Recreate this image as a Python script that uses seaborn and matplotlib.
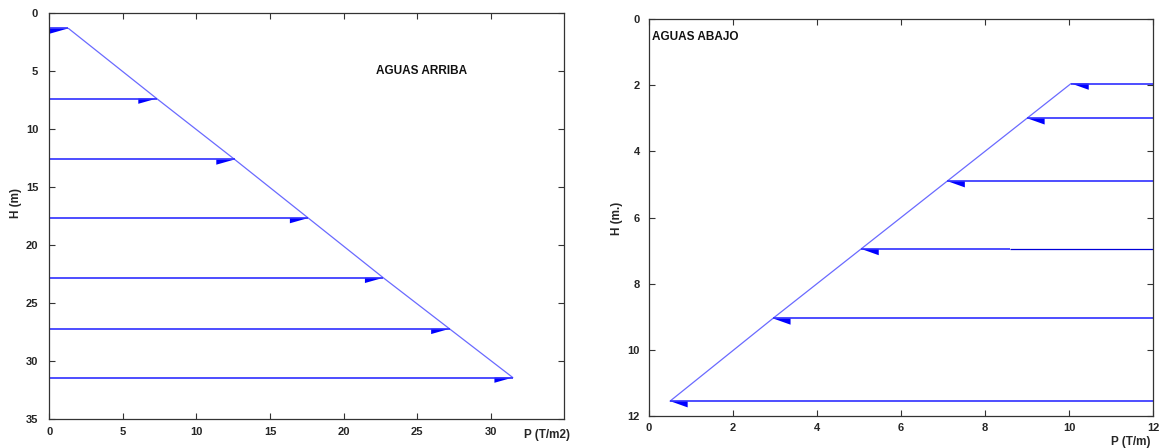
import matplotlib
matplotlib.use("Agg")
import matplotlib.pyplot as plt
import seaborn as sns
import pandas as pd

# Upstream face: water pressure P (T/m2) against depth H (m)
up_H = [1.3, 7.35, 12.6, 17.65, 22.8, 27.2, 31.4]
up_P = [1.3, 7.3, 12.6, 17.6, 22.7, 27.2, 31.5]

# Downstream face: load P (T/m) against depth H (m.)
down_H = [1.95, 3.0, 4.9, 6.95, 9.05, 11.55]
down_P = [10.05, 9.0, 7.1, 5.05, 2.95, 0.5]
down_P_edge = 12.0          # loads are drawn from the right edge
down_split_P = 8.6          # darker stretch of the 4th load line
down_split_row = 3

up_xticks = [0, 5, 10, 15, 20, 25, 30]
up_yticks = [0, 5, 10, 15, 20, 25, 30, 35]
down_xticks = [0, 2, 4, 6, 8, 10, 12]
down_yticks = [0, 2, 4, 6, 8, 10, 12]

sns.set_theme(style="ticks")
plt.rcParams["font.family"] = ["Liberation Sans", "DejaVu Sans"]

LINE = "#2f2fff"
SLOPE = "#6a6aff"
HEAD = "#0000ff"

fig = plt.figure(figsize=(11.65, 4.48), dpi=100)
ax1 = fig.add_axes([0.0423, 0.064, 0.4421, 0.9063])
ax2 = fig.add_axes([0.5571, 0.0714, 0.4326, 0.8862])

# ---- upstream panel ----
up = pd.DataFrame({"P": up_P, "H": up_H})
sns.lineplot(data=up, x="P", y="H", ax=ax1, color=SLOPE, lw=0.9, sort=False)
ax1.hlines(up["H"], 0, up["P"], color=LINE, lw=1.2)
for p, h in zip(up_P, up_H):
    hl = 1.25
    # half head hanging below the load line
    ax1.arrow(p - hl, h, hl, 0, shape="right", width=0, head_width=0.9,
              head_length=hl, length_includes_head=True, lw=0, color=HEAD)
ax1.set_xlim(0, 35)
ax1.set_ylim(35, 0)
ax1.set_xticks(up_xticks)
ax1.set_yticks(up_yticks)
ax1.text(22.2, 5.0, "AGUAS ARRIBA", fontsize=8.5, fontweight="bold",
         va="center", ha="left", color="#111111")
ax1.set_xlabel("P (T/m2)", fontsize=8.5, fontweight="bold")
ax1.set_ylabel("H (m)", fontsize=8.5, fontweight="bold")
ax1.xaxis.set_label_coords(0.966, -0.024)
ax1.yaxis.set_label_coords(-0.053, 0.533)
ax1.tick_params(axis="x", pad=5.5)
ax1.tick_params(axis="y", pad=8)

# ---- downstream panel ----
down = pd.DataFrame({"P": down_P, "H": down_H})
sns.lineplot(data=down, x="P", y="H", ax=ax2, color=SLOPE, lw=0.9, sort=False)
for i, (p, h) in enumerate(zip(down_P, down_H)):
    if i == down_split_row:
        ax2.hlines(h, p, down_split_P, color=LINE, lw=1.2)
        ax2.hlines(h, down_split_P, down_P_edge, color="#0000d8", lw=0.9)
    else:
        ax2.hlines(h, p, down_P_edge, color=LINE, lw=1.2)
    hl = 0.42
    ax2.arrow(p + hl, h, -hl, 0, shape="left", width=0, head_width=0.38,
              head_length=hl, length_includes_head=True, lw=0, color=HEAD)
ax2.set_xlim(0, 12)
ax2.set_ylim(12, 0)
ax2.set_xticks(down_xticks)
ax2.set_yticks(down_yticks)
ax2.text(0.08, 0.55, "AGUAS ABAJO", fontsize=8.5, fontweight="bold",
         va="center", ha="left", color="#111111")
ax2.set_xlabel("P (T/m)", fontsize=8.5, fontweight="bold")
ax2.set_ylabel("H (m.)", fontsize=8.5, fontweight="bold")
ax2.xaxis.set_label_coords(0.956, -0.05)
ax2.yaxis.set_label_coords(-0.0516, 0.497)
ax2.tick_params(axis="x", pad=5)
ax2.tick_params(axis="y", pad=6.5)

for ax in (ax1, ax2):
    ax.tick_params(direction="in", length=4, width=0.8, top=True, right=True,
                   labelsize=8, color="#333333")
    for lab in ax.get_xticklabels() + ax.get_yticklabels():
        lab.set_fontweight("bold")
    for s in ax.spines.values():
        s.set_visible(True)
        s.set_color("#333333")
        s.set_linewidth(0.9)
    ax.set_facecolor("white")

fig.savefig("out.png", dpi=100, facecolor="white")
